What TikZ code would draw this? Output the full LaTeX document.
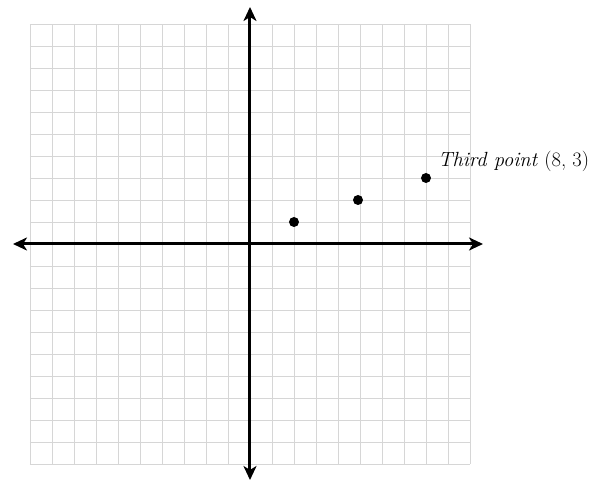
\documentclass[tikz,border=0pt]{standalone}
\usetikzlibrary{arrows.meta}
\begin{document}
\begin{tikzpicture}[x=1pt,y=1pt,
  gridline/.style={draw=black!16, line width=0.8pt},
  axisline/.style={line width=3pt, -{Stealth[length=14pt,width=13pt,inset=4pt]}},
  dot/.style={circle, fill=black, inner sep=0pt, minimum size=10pt},
  lbl/.style={anchor=base west, inner sep=0pt, font=\fontsize{20.5}{24}\selectfont}]
\useasboundingbox (-250,-237) rectangle (356,244);
\foreach \k in {-220,-198,...,220} {
  \draw[gridline] (\k,-220) -- (\k,220);
  \draw[gridline] (-220,\k) -- (220,\k);
}
\coordinate (o) at (0,0);
\coordinate (top) at (0,237);
\coordinate (bot) at (0,-236);
\coordinate (lft) at (-237,0);
\coordinate (rgt) at (233,0);
\draw[axisline] (o) -- (top);
\draw[axisline] (o) -- (bot);
\draw[axisline] (o) -- (lft);
\draw[axisline] (o) -- (rgt);
\node[dot] (p1) at (44,22) {};
\node[dot] (p2) at (108,44) {};
\node[dot] (p3) at (176,66) {};
\node[lbl] (t) at (188,77) {\textit{Third point} (8, 3)};
\end{tikzpicture}
\end{document}
